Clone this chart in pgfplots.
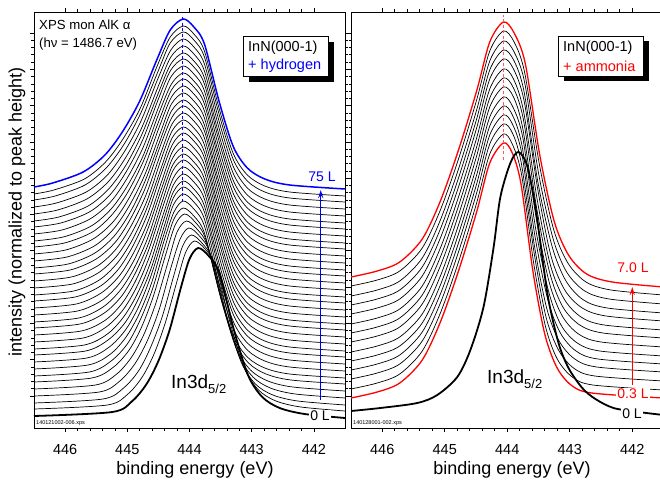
\documentclass[border=0pt]{standalone}
\usepackage{fontspec}
\setmainfont{Liberation Sans}
\usepackage{pgfplots}
\pgfplotsset{compat=1.18}
\usetikzlibrary{arrows.meta}

\pgfplotsset{
  panel/.style={
    scale only axis, height=416pt,
    xmin=441.5, xmax=446.5, x dir=reverse,
    ymin=0, ymax=416,
    xtick={442,443,444,445,446}, minor x tick num=4,
    ytick={32,68.3,104.6,140.9,177.2,213.5,249.8,286.1,322.4,358.7,395},
    minor y tick num=4, yticklabels={},
    tick align=outside,
    major tick length=4pt, minor tick length=2.5pt,
    axis line style={line width=0.9pt},
    every tick/.style={black, line width=0.6pt},
    ticklabel style={font=\fontsize{14.5}{16}\selectfont},
    xticklabel style={yshift=-9pt},
    /pgf/number format/assume math mode=true,
    clip=true,
  },
  spc/.style={black, line width=0.7pt, smooth},
}

\begin{document}
\begin{tikzpicture}[x=1pt,y=1pt]
\useasboundingbox (0,0) rectangle (660,479);

% ---------------- left panel: hydrogen ----------------
\begin{axis}[panel, at={(34pt,51pt)}, anchor=south west, width=311pt]
\addplot[spc] coordinates {(446.5,19)(445.32,23)(444.99,34)(444.76,51)(444.57,74)(444.39,105)(444.20,147)(444.06,176)(443.92,187)(443.75,179)(443.58,162)(443.35,106)(443.12,60)(442.89,38)(442.61,27)(442.21,21)(441.5,17)};
\addplot[spc] coordinates {(446.5,25)(445.39,29)(445.06,40)(444.82,57)(444.63,80)(444.44,111)(444.25,153)(444.11,182)(443.97,193)(443.80,185)(443.63,168)(443.40,112)(443.17,66)(442.94,44)(442.66,33)(442.26,27)(441.5,23)};
\addplot[spc] coordinates {(446.5,32)(445.45,36)(445.12,47)(444.88,64)(444.68,87)(444.49,118)(444.30,160)(444.15,189)(444.01,200)(443.84,192)(443.67,175)(443.44,119)(443.21,73)(442.98,51)(442.70,40)(442.30,34)(441.5,30)};
\addplot[spc] coordinates {(446.5,39)(445.51,43)(445.17,54)(444.93,71)(444.73,94)(444.54,125)(444.34,167)(444.20,196)(444.05,207)(443.88,199)(443.71,182)(443.48,126)(443.25,80)(443.02,58)(442.74,47)(442.34,41)(441.5,37)};
\addplot[spc] coordinates {(446.5,46)(445.57,50)(445.22,61)(444.97,78)(444.77,101)(444.58,132)(444.38,174)(444.23,203)(444.08,214)(443.91,206)(443.74,189)(443.51,133)(443.28,87)(443.05,65)(442.77,54)(442.37,48)(441.5,44)};
\addplot[spc] coordinates {(446.5,52)(445.61,56)(445.26,67)(445.00,84)(444.80,107)(444.60,138)(444.40,180)(444.25,209)(444.1,220)(443.93,212)(443.76,195)(443.53,139)(443.30,93)(443.07,71)(442.79,60)(442.39,54)(441.5,50)};
\addplot[spc] coordinates {(446.5,59)(445.63,63)(445.27,74)(445.02,91)(444.81,114)(444.61,145)(444.41,187)(444.25,216)(444.1,227)(443.93,219)(443.76,202)(443.53,146)(443.30,100)(443.07,78)(442.79,67)(442.39,61)(441.5,57)};
\addplot[spc] coordinates {(446.5,66)(445.65,70)(445.29,81)(445.03,98)(444.82,121)(444.62,152)(444.41,194)(444.26,223)(444.1,234)(443.93,226)(443.76,209)(443.53,153)(443.30,107)(443.07,85)(442.79,74)(442.39,68)(441.5,64)};
\addplot[spc] coordinates {(446.5,73)(445.67,77)(445.31,88)(445.04,105)(444.83,128)(444.62,159)(444.41,201)(444.26,230)(444.1,241)(443.93,233)(443.76,216)(443.53,160)(443.30,114)(443.07,92)(442.79,81)(442.39,75)(441.5,71)};
\addplot[spc] coordinates {(446.5,79)(445.69,83)(445.32,94)(445.06,111)(444.84,134)(444.63,165)(444.42,207)(444.26,236)(444.1,247)(443.93,239)(443.76,222)(443.53,166)(443.30,120)(443.07,98)(442.79,87)(442.39,81)(441.5,77)};
\addplot[spc] coordinates {(446.5,86)(445.71,90)(445.34,101)(445.07,118)(444.85,141)(444.64,172)(444.42,214)(444.26,243)(444.1,254)(443.93,246)(443.76,229)(443.53,173)(443.30,127)(443.07,105)(442.79,94)(442.39,88)(441.5,84)};
\addplot[spc] coordinates {(446.5,93)(445.74,97)(445.35,108)(445.08,125)(444.86,148)(444.65,179)(444.43,221)(444.26,250)(444.1,261)(443.93,253)(443.76,236)(443.53,180)(443.30,134)(443.07,112)(442.79,101)(442.39,95)(441.5,91)};
\addplot[spc] coordinates {(446.5,100)(445.76,104)(445.37,115)(445.09,132)(444.87,155)(444.65,186)(444.43,228)(444.27,257)(444.1,268)(443.93,260)(443.76,243)(443.53,187)(443.30,141)(443.07,119)(442.79,108)(442.39,102)(441.5,98)};
\addplot[spc] coordinates {(446.5,106)(445.78,110)(445.39,121)(445.11,138)(444.88,161)(444.66,192)(444.44,234)(444.27,263)(444.1,274)(443.93,266)(443.76,249)(443.53,193)(443.30,147)(443.07,125)(442.79,114)(442.39,108)(441.5,104)};
\addplot[spc] coordinates {(446.5,113)(445.80,117)(445.40,128)(445.12,145)(444.89,168)(444.67,199)(444.44,241)(444.27,270)(444.1,281)(443.93,273)(443.76,256)(443.53,200)(443.30,154)(443.07,132)(442.79,121)(442.39,115)(441.5,111)};
\addplot[spc] coordinates {(446.5,120)(445.82,124)(445.42,135)(445.13,152)(444.90,175)(444.67,206)(444.44,248)(444.27,277)(444.1,288)(443.93,280)(443.76,263)(443.53,207)(443.30,161)(443.07,139)(442.79,128)(442.39,122)(441.5,118)};
\addplot[spc] coordinates {(446.5,127)(445.84,131)(445.43,142)(445.14,159)(444.91,182)(444.68,213)(444.45,255)(444.27,284)(444.1,295)(443.93,287)(443.76,270)(443.53,214)(443.30,168)(443.07,146)(442.79,135)(442.39,129)(441.5,125)};
\addplot[spc] coordinates {(446.5,133)(445.86,137)(445.45,148)(445.16,165)(444.92,188)(444.69,219)(444.45,261)(444.28,290)(444.1,301)(443.93,293)(443.76,276)(443.53,220)(443.30,174)(443.07,152)(442.79,141)(442.39,135)(441.5,131)};
\addplot[spc] coordinates {(446.5,140)(445.88,144)(445.47,155)(445.17,172)(444.93,195)(444.69,226)(444.46,268)(444.28,297)(444.1,308)(443.93,300)(443.76,283)(443.53,227)(443.30,181)(443.07,159)(442.79,148)(442.39,142)(441.5,138)};
\addplot[spc] coordinates {(446.5,147)(445.90,151)(445.48,162)(445.18,179)(444.94,202)(444.70,233)(444.46,275)(444.28,304)(444.1,315)(443.93,307)(443.76,290)(443.53,234)(443.30,188)(443.07,166)(442.79,155)(442.39,149)(441.5,145)};
\addplot[spc] coordinates {(446.5,154)(445.92,158)(445.50,169)(445.19,186)(444.95,209)(444.71,240)(444.47,282)(444.28,311)(444.1,322)(443.93,314)(443.76,297)(443.53,241)(443.30,195)(443.07,173)(442.79,162)(442.39,156)(441.5,152)};
\addplot[spc] coordinates {(446.5,160)(445.95,164)(445.52,175)(445.21,192)(444.96,215)(444.72,246)(444.47,288)(444.29,317)(444.1,328)(443.93,320)(443.76,303)(443.53,247)(443.30,201)(443.07,179)(442.79,168)(442.39,162)(441.5,158)};
\addplot[spc] coordinates {(446.5,167)(445.97,171)(445.53,182)(445.22,199)(444.97,222)(444.72,253)(444.47,295)(444.29,324)(444.1,335)(443.93,327)(443.76,310)(443.53,254)(443.30,208)(443.07,186)(442.79,175)(442.39,169)(441.5,165)};
\addplot[spc] coordinates {(446.5,174)(445.99,178)(445.55,189)(445.23,206)(444.98,229)(444.73,260)(444.48,302)(444.29,331)(444.1,342)(443.93,334)(443.76,317)(443.53,261)(443.30,215)(443.07,193)(442.79,182)(442.39,176)(441.5,172)};
\addplot[spc] coordinates {(446.5,181)(446.01,185)(445.56,196)(445.25,213)(444.99,236)(444.74,267)(444.48,309)(444.29,338)(444.1,349)(443.93,341)(443.76,324)(443.53,268)(443.30,222)(443.07,200)(442.79,189)(442.39,183)(441.5,179)};
\addplot[spc] coordinates {(446.5,187)(446.03,191)(445.58,202)(445.26,219)(445.00,242)(444.74,273)(444.49,315)(444.29,344)(444.1,355)(443.93,347)(443.76,330)(443.53,274)(443.30,228)(443.07,206)(442.79,195)(442.39,189)(441.5,185)};
\addplot[spc] coordinates {(446.5,194)(446.05,198)(445.60,209)(445.27,226)(445.01,249)(444.75,280)(444.49,322)(444.30,351)(444.1,362)(443.93,354)(443.76,337)(443.53,281)(443.30,235)(443.07,213)(442.79,202)(442.39,196)(441.5,192)};
\addplot[spc] coordinates {(446.5,201)(446.07,205)(445.61,216)(445.28,233)(445.02,256)(444.76,287)(444.50,329)(444.30,358)(444.1,369)(443.93,361)(443.76,344)(443.53,288)(443.30,242)(443.07,220)(442.79,209)(442.39,203)(441.5,199)};
\addplot[spc] coordinates {(446.5,207)(446.10,211)(445.63,222)(445.30,239)(445.03,262)(444.77,293)(444.50,335)(444.30,364)(444.1,375)(443.93,367)(443.76,350)(443.53,294)(443.30,248)(443.07,226)(442.79,215)(442.39,209)(441.5,205)};
\addplot[spc] coordinates {(446.5,214)(446.12,218)(445.65,229)(445.31,246)(445.04,269)(444.77,300)(444.50,342)(444.30,371)(444.1,382)(443.93,374)(443.76,357)(443.53,301)(443.30,255)(443.07,233)(442.79,222)(442.39,216)(441.5,212)};
\addplot[spc] coordinates {(446.5,221)(446.14,225)(445.66,236)(445.32,253)(445.05,276)(444.78,307)(444.51,349)(444.30,378)(444.1,389)(443.93,381)(443.76,364)(443.53,308)(443.30,262)(443.07,240)(442.79,229)(442.39,223)(441.5,219)};
\addplot[spc] coordinates {(446.5,228)(446.16,232)(445.68,243)(445.34,260)(445.06,283)(444.79,314)(444.51,356)(444.31,385)(444.1,396)(443.93,388)(443.76,371)(443.53,315)(443.30,269)(443.07,247)(442.79,236)(442.39,230)(441.5,226)};
\addplot[spc] coordinates {(446.5,234)(446.18,238)(445.69,249)(445.35,266)(445.07,289)(444.79,320)(444.52,362)(444.31,391)(444.1,402)(443.93,394)(443.76,377)(443.53,321)(443.30,275)(443.07,253)(442.79,242)(442.39,236)(441.5,232)};
% 0 L
\addplot[black, line width=1.8pt, smooth] coordinates {(446.5,12)(445.24,16)(444.92,27)(444.69,44)(444.50,67)(444.32,98)(444.14,140)(444.00,169)(443.86,180)(443.69,172)(443.52,155)(443.29,99)(443.06,53)(442.83,31)(442.55,20)(442.15,14)(441.5,10)};
% 75 L
\addplot[blue, line width=1.5pt, smooth] coordinates {(446.5,241)(446.20,245)(445.71,256)(445.36,273)(445.08,296)(444.80,327)(444.52,369)(444.31,398)(444.1,409)(443.93,401)(443.76,384)(443.53,328)(443.30,282)(443.07,260)(442.79,249)(442.39,243)(441.5,239)};
\draw[blue, line width=0.8pt, dash pattern=on 3pt off 2.5pt] (axis cs:444.11,226) -- (axis cs:444.11,411);
\draw[blue, line width=1.3pt, -{Stealth[length=8pt,width=5pt]}] (axis cs:441.89,28) -- (axis cs:441.89,238);
\end{axis}

% ---------------- right panel: ammonia ----------------
\begin{axis}[panel, at={(351pt,51pt)}, anchor=south west, width=312.5pt]
\addplot[spc] coordinates {(446.5,39)(446.08,45)(445.72,54)(445.36,77)(445.07,115)(444.78,166)(444.49,225)(444.28,274)(444.06,294)(443.92,284)(443.77,253)(443.58,166)(443.39,102)(443.20,69)(442.96,51)(442.63,43)(441.5,38)};
\addplot[spc] coordinates {(446.5,49)(446.08,55)(445.72,64)(445.36,87)(445.07,125)(444.78,176)(444.49,235)(444.28,284)(444.06,304)(443.91,294)(443.77,263)(443.57,175)(443.38,111)(443.18,78)(442.94,60)(442.60,52)(441.5,47)};
\addplot[spc] coordinates {(446.5,58)(446.08,64)(445.72,73)(445.36,96)(445.07,134)(444.78,185)(444.49,244)(444.28,293)(444.06,313)(443.91,303)(443.76,272)(443.57,184)(443.37,120)(443.17,87)(442.92,69)(442.57,61)(441.5,56)};
\addplot[spc] coordinates {(446.5,67)(446.08,73)(445.72,82)(445.36,105)(445.07,143)(444.78,194)(444.49,253)(444.28,302)(444.06,322)(443.91,312)(443.76,281)(443.56,193)(443.35,128)(443.15,95)(442.90,77)(442.55,69)(441.5,64)};
\addplot[spc] coordinates {(446.5,76)(446.08,82)(445.72,91)(445.36,114)(445.07,152)(444.78,203)(444.49,262)(444.28,311)(444.06,331)(443.91,321)(443.75,290)(443.55,201)(443.34,137)(443.14,103)(442.88,85)(442.52,77)(441.5,72)};
\addplot[spc] coordinates {(446.5,86)(446.08,92)(445.72,101)(445.36,124)(445.07,162)(444.78,213)(444.49,272)(444.28,321)(444.06,341)(443.90,331)(443.75,299)(443.54,211)(443.33,146)(443.12,112)(442.86,94)(442.50,86)(441.5,81)};
\addplot[spc] coordinates {(446.5,95)(446.08,101)(445.72,110)(445.36,133)(445.07,171)(444.78,222)(444.49,281)(444.28,330)(444.06,350)(443.90,340)(443.74,308)(443.53,220)(443.32,155)(443.11,121)(442.84,103)(442.47,95)(441.5,90)};
\addplot[spc] coordinates {(446.5,104)(446.08,110)(445.72,119)(445.36,142)(445.07,180)(444.78,231)(444.49,290)(444.28,339)(444.06,359)(443.90,349)(443.74,317)(443.52,228)(443.31,163)(443.09,129)(442.82,111)(442.45,103)(441.5,98)};
\addplot[spc] coordinates {(446.5,114)(446.08,120)(445.72,129)(445.36,152)(445.07,190)(444.78,241)(444.49,300)(444.28,349)(444.06,369)(443.90,359)(443.73,327)(443.51,238)(443.30,172)(443.08,138)(442.80,120)(442.42,112)(441.5,107)};
\addplot[spc] coordinates {(446.5,123)(446.08,129)(445.72,138)(445.36,161)(445.07,199)(444.78,250)(444.49,309)(444.28,358)(444.06,378)(443.89,367)(443.73,336)(443.51,246)(443.28,181)(443.06,147)(442.78,128)(442.40,120)(441.5,115)};
\addplot[spc] coordinates {(446.5,132)(446.08,138)(445.72,147)(445.36,170)(445.07,208)(444.78,259)(444.49,318)(444.28,367)(444.06,387)(443.89,376)(443.72,345)(443.50,255)(443.27,190)(443.05,156)(442.76,137)(442.37,129)(441.5,124)};
\addplot[spc] coordinates {(446.5,142)(446.08,148)(445.72,157)(445.36,180)(445.07,218)(444.78,269)(444.49,328)(444.28,377)(444.06,397)(443.89,386)(443.72,355)(443.49,265)(443.26,199)(443.03,165)(442.74,146)(442.34,138)(441.5,133)};
% 0.3 L and 7.0 L
\addplot[red, line width=1.3pt, smooth] coordinates {(446.5,30)(446.08,36)(445.72,45)(445.36,68)(445.07,106)(444.78,157)(444.49,216)(444.28,265)(444.06,285)(443.92,275)(443.78,244)(443.59,157)(443.40,94)(443.21,61)(442.98,43)(442.65,35)(441.5,30)};
\addplot[red, line width=1.3pt, smooth] coordinates {(446.5,151)(446.08,157)(445.72,166)(445.36,189)(445.07,227)(444.78,278)(444.49,337)(444.28,386)(444.06,406)(443.89,395)(443.71,364)(443.48,273)(443.25,207)(443.02,173)(442.73,154)(442.32,146)(441.5,141)};
% 0 L
\addplot[black, line width=1.8pt, smooth] coordinates {(446.5,17)(446.03,20)(445.44,25)(445.12,33)(444.8,51)(444.59,78)(444.38,121)(444.22,180)(444.11,231)(443.95,265)(443.82,276)(443.68,262)(443.55,221)(443.44,171)(443.34,128)(443.18,85)(443.02,60)(442.8,40)(442.59,29)(442.3,20)(441.9,16)(441.5,13)};
\draw[red!65, line width=0.9pt, dash pattern=on 3pt off 2.5pt] (axis cs:444.06,268) -- (axis cs:444.06,413);
\draw[red, line width=1.3pt, -{Stealth[length=8pt,width=5pt]}] (axis cs:442.0,43) -- (axis cs:442.0,141);
\end{axis}

% ---------------- annotations ----------------
\node[anchor=west, inner sep=0pt, font=\fontsize{13.2}{14}\selectfont] at (39,454) {XPS mon AlK α};
\node[anchor=west, inner sep=0pt, font=\fontsize{13.2}{14}\selectfont] at (39,435) {(hν = 1486.7 eV)};

\fill[black] (249,397) rectangle (334,437);
\draw[fill=white, line width=0.6pt] (243,403) rectangle (328,443);
\node[anchor=west, inner sep=0pt, font=\fontsize{14.5}{16}\selectfont] at (248,431) {InN(000-1)};
\node[anchor=west, inner sep=0pt, font=\fontsize{14.5}{16}\selectfont, text=blue] at (248,413) {+ hydrogen};

\fill[black] (564,398) rectangle (649,438);
\draw[fill=white, line width=0.6pt] (558,403) rectangle (643,443);
\node[anchor=west, inner sep=0pt, font=\fontsize{14.5}{16}\selectfont] at (563,431) {InN(000-1)};
\node[anchor=west, inner sep=0pt, font=\fontsize{14.5}{16}\selectfont, text=red] at (563,413) {+ ammonia};

\node[anchor=base west, inner sep=0pt, font=\fontsize{19}{20}\selectfont] at (171,91) {In3d\raisebox{-5pt}{\fontsize{13}{14}\selectfont 5/2}};
\node[anchor=base west, inner sep=0pt, font=\fontsize{19}{20}\selectfont] at (487,96) {In3d\raisebox{-5pt}{\fontsize{13}{14}\selectfont 5/2}};

\node[font=\fontsize{14}{15}\selectfont, text=blue, inner sep=1pt] at (322,302) {75 L};
\node[font=\fontsize{14}{15}\selectfont, fill=white, inner sep=1.5pt] at (320,63) {0 L};
\node[font=\fontsize{14}{15}\selectfont, text=red, inner sep=1pt] at (633,211) {7.0 L};
\node[font=\fontsize{14}{15}\selectfont, text=red, fill=white, inner sep=1.5pt] at (633,85) {0.3 L};
\node[font=\fontsize{14}{15}\selectfont, fill=white, inner sep=1.5pt] at (632,65) {0 L};

\node[anchor=west, inner sep=0pt, font=\fontsize{5.5}{6}\selectfont] at (36,56) {140121002-006.xps};
\node[anchor=west, inner sep=0pt, font=\fontsize{5.5}{6}\selectfont] at (353,56) {140128001-002.xps};

\node[anchor=base, inner sep=0pt, font=\fontsize{18}{20}\selectfont] at (195,5) {binding energy (eV)};
\node[anchor=base, inner sep=0pt, font=\fontsize{18}{20}\selectfont] at (512,5) {binding energy (eV)};
\node[rotate=90, inner sep=0pt, font=\fontsize{18}{20}\selectfont] at (17,267) {intensity (normalized to peak height)};
\end{tikzpicture}
\end{document}
